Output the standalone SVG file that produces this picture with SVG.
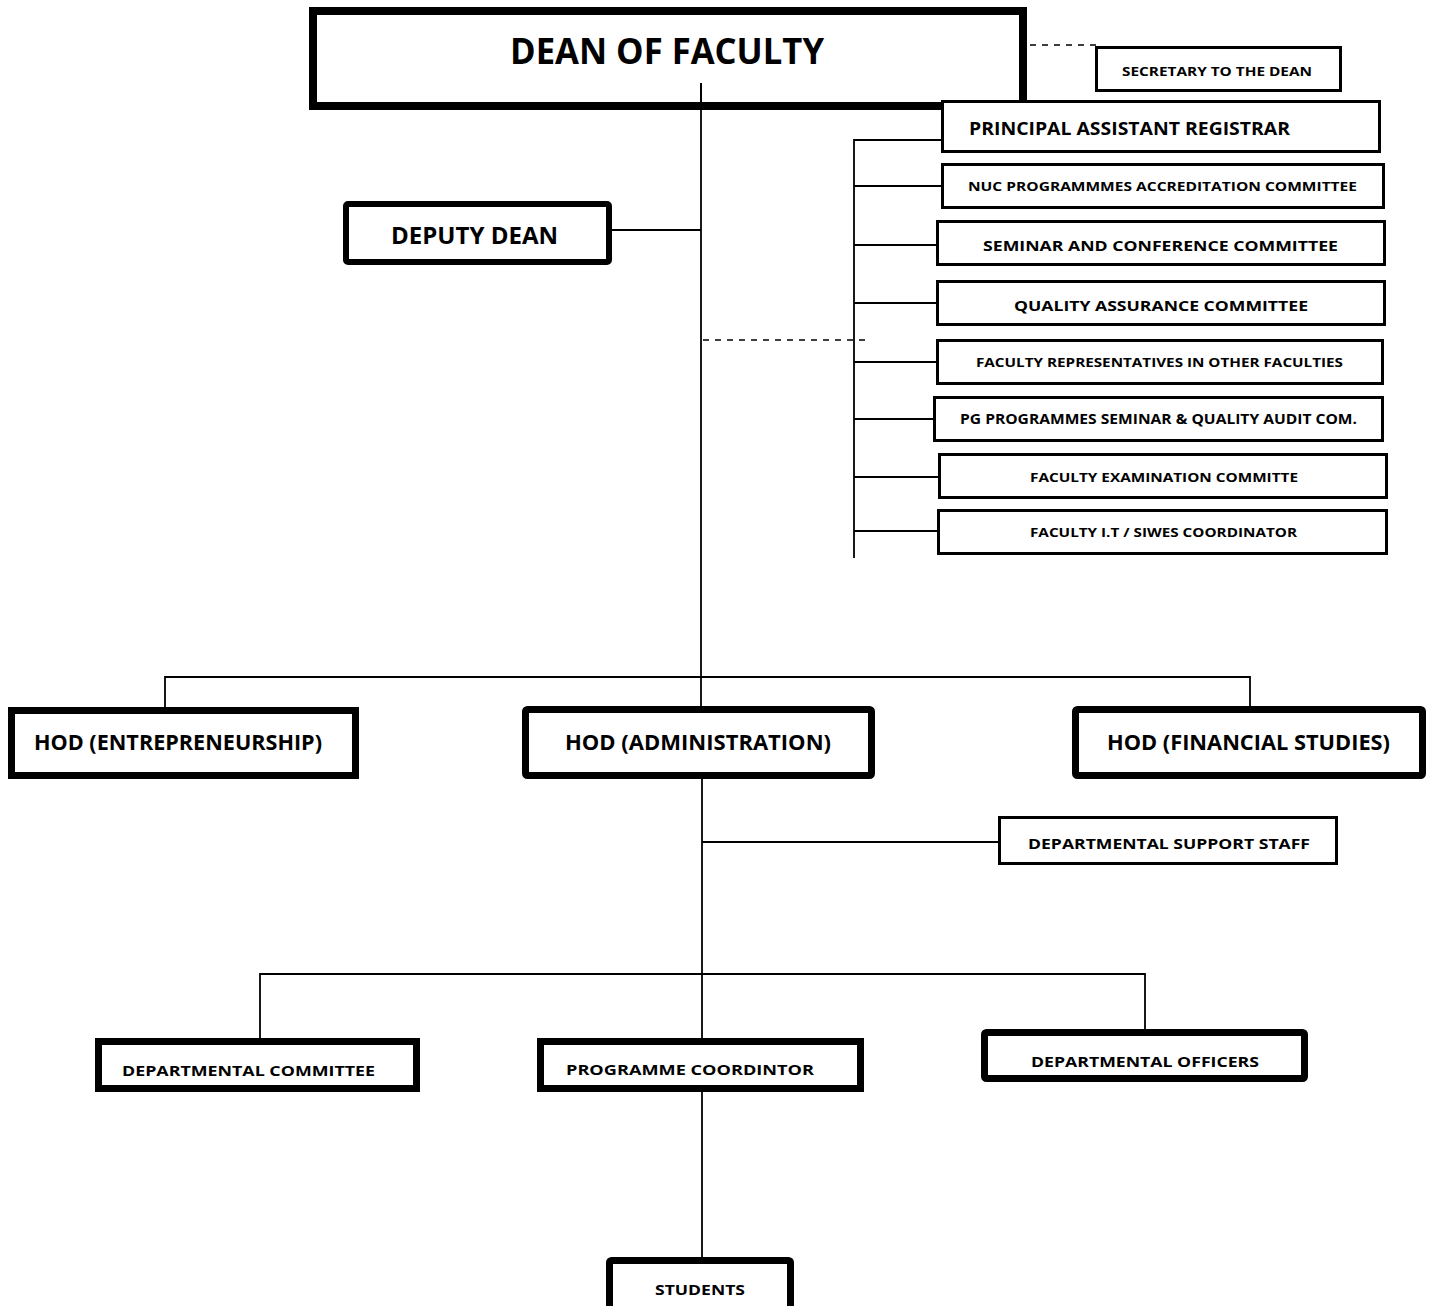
<svg xmlns="http://www.w3.org/2000/svg" width="1429" height="1306" viewBox="0 0 1429 1306">
<style>
.thick{fill:#fff;stroke:#000;stroke-width:7}
.thin{fill:#fff;stroke:#000;stroke-width:3}
.t{font-family:"Open Sans","Noto Sans","Liberation Sans",sans-serif;font-weight:bold;fill:#000}
.c{stroke:#000;stroke-width:1.8;fill:none}
.d{stroke:#000;stroke-width:1.5;fill:none;stroke-dasharray:6,6}
</style>
<rect width="1429" height="1306" fill="#fff"/>
<g id="connectors">
<line class="c" x1="701" y1="83" x2="701" y2="708"/>
<line class="c" x1="612" y1="230" x2="701" y2="230"/>
<line class="d" x1="703" y1="340" x2="868" y2="340"/>
<line class="d" x1="1030" y1="45" x2="1097" y2="45"/>
<polyline class="c" points="941,140 854,140 854,558"/>
<line class="c" x1="854" y1="186" x2="941" y2="186"/>
<line class="c" x1="854" y1="245" x2="936" y2="245"/>
<line class="c" x1="854" y1="303" x2="936" y2="303"/>
<line class="c" x1="854" y1="362" x2="936" y2="362"/>
<line class="c" x1="854" y1="419" x2="933" y2="419"/>
<line class="c" x1="854" y1="477" x2="938" y2="477"/>
<line class="c" x1="854" y1="531" x2="937" y2="531"/>
<polyline class="c" points="165,712 165,677 1250,677 1250,712"/>
<line class="c" x1="702" y1="770" x2="702" y2="1040"/>
<line class="c" x1="702" y1="842" x2="999" y2="842"/>
<polyline class="c" points="260,1040 260,974 1145,974 1145,1030"/>
<line class="c" x1="702" y1="1090" x2="702" y2="1257"/>
</g>
<g id="dean">
<rect x="313" y="11" width="710" height="95" fill="none" stroke="#000" stroke-width="8"/>
<line class="c" x1="701" y1="83" x2="701" y2="106"/>
<text class="t" x="510" y="64" font-size="35" textLength="314" lengthAdjust="spacingAndGlyphs">DEAN OF FACULTY</text>
</g>
<g id="secretary">
<rect class="thin" x="1096.5" y="47.5" width="244" height="43"/>
<text class="t" x="1122" y="76" font-size="13" textLength="190" lengthAdjust="spacingAndGlyphs">SECRETARY TO THE DEAN</text>
</g>
<g id="principal">
<rect class="thin" x="942.5" y="101.5" width="437" height="50"/>
<text class="t" x="969" y="135" font-size="18" textLength="321" lengthAdjust="spacingAndGlyphs">PRINCIPAL  ASSISTANT REGISTRAR</text>
</g>
<g id="nuc">
<rect class="thin" x="942.5" y="164.5" width="441" height="43"/>
<text class="t" x="968" y="191" font-size="13" textLength="389" lengthAdjust="spacingAndGlyphs">NUC PROGRAMMMES ACCREDITATION COMMITTEE</text>
</g>
<g id="seminar">
<rect class="thin" x="937.5" y="221.5" width="447" height="43"/>
<text class="t" x="983" y="251" font-size="15" textLength="355" lengthAdjust="spacingAndGlyphs">SEMINAR AND CONFERENCE COMMITTEE</text>
</g>
<g id="quality">
<rect class="thin" x="937.5" y="281.5" width="447" height="43"/>
<text class="t" x="1014" y="311" font-size="15" textLength="294" lengthAdjust="spacingAndGlyphs">QUALITY ASSURANCE COMMITTEE</text>
</g>
<g id="reps">
<rect class="thin" x="937.5" y="340.5" width="445" height="43"/>
<text class="t" x="976" y="367" font-size="13" textLength="367" lengthAdjust="spacingAndGlyphs">FACULTY REPRESENTATIVES IN OTHER FACULTIES</text>
</g>
<g id="pg">
<rect class="thin" x="934.5" y="397.5" width="448" height="43"/>
<text class="t" x="960" y="424" font-size="14" textLength="397" lengthAdjust="spacingAndGlyphs">PG PROGRAMMES SEMINAR &amp; QUALITY AUDIT COM.</text>
</g>
<g id="exam">
<rect class="thin" x="939.5" y="454.5" width="447" height="43"/>
<text class="t" x="1030" y="482" font-size="13" textLength="268" lengthAdjust="spacingAndGlyphs">FACULTY EXAMINATION COMMITTE</text>
</g>
<g id="siwes">
<rect class="thin" x="938.5" y="510.5" width="448" height="43"/>
<text class="t" x="1030" y="537" font-size="13" textLength="267" lengthAdjust="spacingAndGlyphs">FACULTY I.T / SIWES COORDINATOR</text>
</g>
<g id="deputy">
<rect x="346" y="204" width="263" height="58" rx="2" fill="#fff" stroke="#000" stroke-width="6"/>
<text class="t" x="391" y="244" font-size="23" textLength="167" lengthAdjust="spacingAndGlyphs">DEPUTY DEAN</text>
</g>
<g id="hod-entrepreneurship">
<rect class="thick" x="11.5" y="710.5" width="344" height="65"/>
<text class="t" x="34" y="750" font-size="21" textLength="288" lengthAdjust="spacingAndGlyphs">HOD (ENTREPRENEURSHIP)</text>
</g>
<g id="hod-administration">
<rect class="thick" x="525.5" y="709.5" width="346" height="66" rx="2"/>
<text class="t" x="565" y="750" font-size="21" textLength="266" lengthAdjust="spacingAndGlyphs">HOD  (ADMINISTRATION)</text>
</g>
<g id="hod-financial">
<rect class="thick" x="1075.5" y="709.5" width="347" height="66" rx="2"/>
<text class="t" x="1107" y="750" font-size="21" textLength="283" lengthAdjust="spacingAndGlyphs">HOD  (FINANCIAL STUDIES)</text>
</g>
<g id="support-staff">
<rect class="thin" x="999.5" y="817.5" width="337" height="46"/>
<text class="t" x="1028" y="849" font-size="15" textLength="282" lengthAdjust="spacingAndGlyphs">DEPARTMENTAL SUPPORT STAFF</text>
</g>
<g id="dept-committee">
<rect class="thick" x="98.5" y="1041.5" width="318" height="47"/>
<text class="t" x="122" y="1076" font-size="15" textLength="253" lengthAdjust="spacingAndGlyphs">DEPARTMENTAL COMMITTEE</text>
</g>
<g id="programme-coordinator">
<rect class="thick" x="540.5" y="1041.5" width="320" height="47"/>
<text class="t" x="566" y="1075" font-size="15" textLength="248" lengthAdjust="spacingAndGlyphs">PROGRAMME  COORDINTOR</text>
</g>
<g id="dept-officers">
<rect class="thick" x="984.5" y="1032.5" width="320" height="46" rx="2"/>
<text class="t" x="1031" y="1067" font-size="15" textLength="228" lengthAdjust="spacingAndGlyphs">DEPARTMENTAL OFFICERS</text>
</g>
<g id="students">
<rect class="thick" x="609.5" y="1260.5" width="181" height="52" rx="2"/>
<text class="t" x="655" y="1295" font-size="15" textLength="90" lengthAdjust="spacingAndGlyphs">STUDENTS</text>
</g>
</svg>
